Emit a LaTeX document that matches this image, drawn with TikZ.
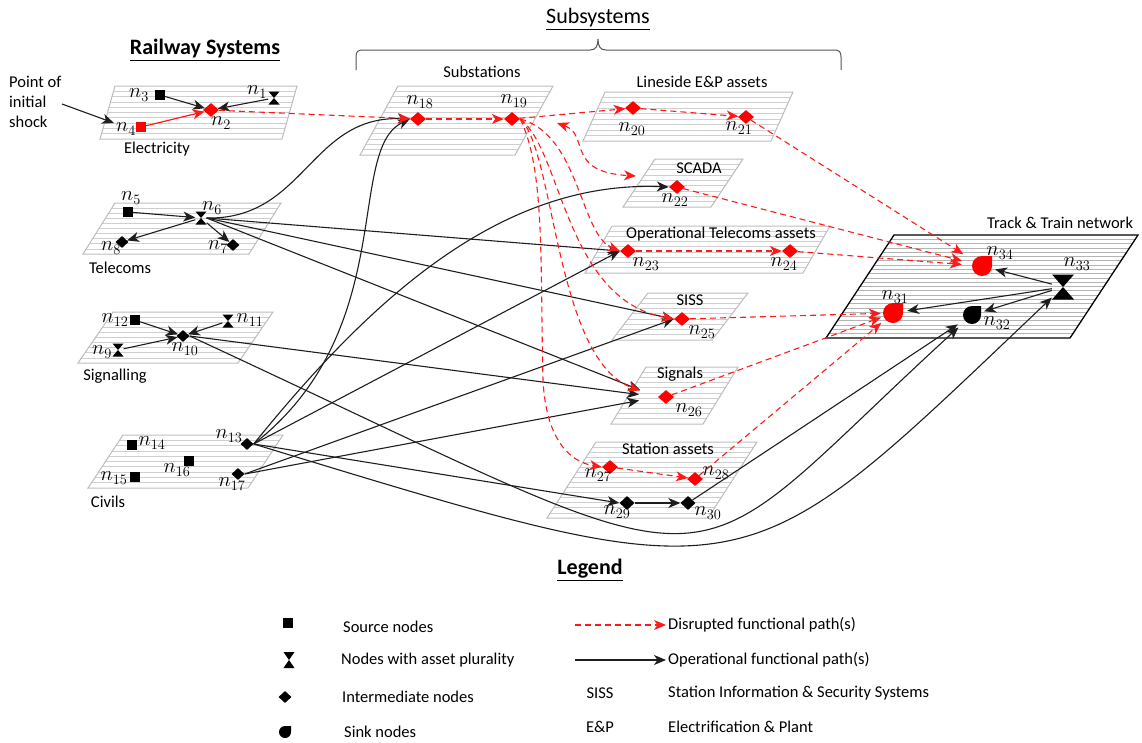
\documentclass[tikz,border=0pt]{standalone}
\usepackage{fontspec}
\setmainfont{Carlito}
\usetikzlibrary{arrows.meta,shapes.geometric}
\pgfdeclarelayer{bg}
\pgfsetlayers{bg,main}

\definecolor{planegray}{HTML}{BDBDBD}
\definecolor{linegray}{HTML}{CFCFCF}
\definecolor{linegrayd}{HTML}{B4B4B4}
\definecolor{pathred}{HTML}{FF1A1A}
\definecolor{opline}{HTML}{1E1E1E}
\definecolor{bracegray}{HTML}{555555}

\newcommand\labfont{\fontsize{20}{22}\selectfont}
\newcommand\ttlfont{\fontsize{16.5}{20}\selectfont}
\newcommand\headfont{\fontsize{22}{26}\selectfont}

% layer plane: top-left x, top-right x, top y, bottom-left x, bottom y, inner lines, edge style
\newcommand\drawplane[7]{%
  \begin{scope}
    \clip (#1,#3) -- (#2,#3) -- (#2+#4-#1,#5) -- (#4,#5) -- cycle;
    \foreach \k in {1,...,#6}{
      \pgfmathsetmacro\yy{#3+(#5-#3)*\k/(#6+1)}
      \draw[planeline] (#4-20,\yy) -- (#2+20,\yy);
    }
  \end{scope}
  \draw[#7] (#1,#3) -- (#2,#3) -- (#2+#4-#1,#5) -- (#4,#5) -- cycle;
}

\tikzset{
  >={Stealth[length=12pt,width=10pt,inset=3.5pt]},
  planeline/.style={draw=linegray, line width=0.8pt},
  planeedge/.style={draw=planegray, line width=1pt},
  planebold/.style={draw=black, line width=1.3pt},
  op/.style={draw=opline, line width=1.1pt, ->},
  opred/.style={draw=pathred, line width=1.2pt, ->},
  dis/.style={draw=pathred, line width=1.1pt, dash pattern=on 6pt off 4pt, ->},
  srcnode/.style={rectangle, fill=black, minimum size=10pt, inner sep=0pt},
  midnode/.style={diamond, fill=black, minimum width=13pt, minimum height=12pt, inner sep=0pt},
  rednode/.style={diamond, fill=red, minimum width=16pt, minimum height=14pt, inner sep=0pt},
  plnode/.style={rectangle, minimum width=11pt, minimum height=13pt, inner sep=0pt,
    path picture={\fill[black] (path picture bounding box.north west) -- (path picture bounding box.north east)
      -- (path picture bounding box.south west) -- (path picture bounding box.south east) -- cycle;}},
  sinknode/.style 2 args={rectangle, minimum size={#2*2pt}, inner sep=0pt,
    path picture={\fill[#1] (path picture bounding box.north) -- (path picture bounding box.north east)
      -- (path picture bounding box.east) arc[start angle=0, end angle=-270, radius=#2pt] -- cycle;}},
  lab/.style={font=\labfont, inner sep=0pt},
  ttl/.style={font=\ttlfont, inner sep=0pt},
  head/.style={font=\headfont, inner sep=0pt},
}

\begin{document}
\begin{tikzpicture}[x=1pt,y=-1pt]
\useasboundingbox (0,0) rectangle (1142,742);

% ---------- planes ----------
\begin{pgfonlayer}{bg}
  \drawplane{115}{297}{86}{100}{139}{9}{planeedge}   % Electricity
  \drawplane{115}{281}{203}{83}{254}{9}{planeedge}   % Telecoms
  \drawplane{113}{273}{312}{78}{363}{9}{planeedge}   % Signalling
  \drawplane{123}{283}{435}{88}{488}{9}{planeedge}   % Civils
  \drawplane{398}{553}{86}{360}{155}{12}{planeedge}  % Substations
  \drawplane{605}{793}{92}{583}{141}{8}{planeedge}   % Lineside
  \drawplane{655}{743}{159}{623}{207}{8}{planeedge}  % SCADA
  \drawplane{612}{830}{226}{585}{273}{8}{planeedge}  % Operational telecoms
  \drawplane{648}{748}{293}{612}{340}{8}{planeedge}  % SISS
  \drawplane{646}{738}{367}{611}{424}{10}{planeedge} % Signals
  \drawplane{596}{757}{442}{547}{518}{14}{planeedge} % Station assets
  \begin{scope}[planeline/.style={draw=linegrayd, line width=0.7pt}]
    \drawplane{894}{1138}{235}{826}{338}{23}{planebold} % Track & Train
  \end{scope}
\end{pgfonlayer}

% ---------- headings ----------
\node[head, font=\headfont\bfseries] (tRail) at (205,50) {\underline{Railway Systems}};
\node[head] (tSub) at (598,19) {\underline{Subsystems}};
\draw[bracegray, line width=1pt] (356,70) -- (356,57) .. controls (356,51) and (358,50) .. (364,50)
  -- (590,50) .. controls (596,50) and (598,46) .. (598,39)
  .. controls (598,46) and (600,50) .. (606,50) -- (833,50)
  .. controls (839,50) and (841,51) .. (841,57) -- (841,70);

% ---------- plane titles ----------
\node[ttl] (tElec) at (157,149) {Electricity};
\node[ttl] (tTel) at (120,268) {Telecoms};
\node[ttl] (tSig) at (115,376) {Signalling};
\node[ttl] (tCiv) at (108,502) {Civils};
\node[ttl] (tSubst) at (482,72) {Substations};
\node[ttl] (tLine) at (702,82) {Lineside E\&P assets};
\node[ttl] (tScada) at (699,168) {SCADA};
\node[ttl] (tOpT) at (721,234) {Operational Telecoms assets};
\node[ttl] (tSiss) at (690,300) {SISS};
\node[ttl] (tSigs) at (680,374) {Signals};
\node[ttl] (tStat) at (668,449) {Station assets};
\node[ttl] (tTrack) at (1060,223) {Track \& Train network};
\node[ttl, align=left, anchor=west] (shock) at (9,102) {Point of\\initial\\shock};

% ---------- nodes ----------
\node[plnode] (n1) at (274,98) {};
\node[rednode] (n2) at (211,110) {};
\node[srcnode] (n3) at (160,95) {};
\node[srcnode, fill=red] (n4) at (141,127) {};
\node[srcnode] (n5) at (128,212) {};
\node[plnode] (n6) at (201,218) {};
\node[midnode] (n7) at (233,245) {};
\node[midnode] (n8) at (122,242) {};
\node[plnode] (n9) at (118,350) {};
\node[midnode] (n10) at (183,336) {};
\node[plnode] (n11) at (228,321) {};
\node[srcnode] (n12) at (135,320) {};
\node[midnode] (n13) at (247,444) {};
\node[srcnode] (n14) at (132,445) {};
\node[srcnode] (n15) at (135,477) {};
\node[srcnode] (n16) at (189,461) {};
\node[midnode] (n17) at (238,474) {};
\node[rednode] (n18) at (418,119) {};
\node[rednode] (n19) at (512,119) {};
\node[rednode] (n20) at (633,108) {};
\node[rednode] (n21) at (746,117) {};
\node[rednode] (n22) at (677,187) {};
\node[rednode] (n23) at (628,251) {};
\node[rednode] (n24) at (790,251) {};
\node[rednode] (n25) at (682,319) {};
\node[rednode] (n26) at (666,397) {};
\node[rednode] (n27) at (610,467) {};
\node[rednode] (n28) at (695,479) {};
\node[midnode, minimum width=15pt, minimum height=14pt] (n29) at (627,503) {};
\node[midnode, minimum width=15pt, minimum height=14pt] (n30) at (688,503) {};
\node[sinknode={red}{10}] (n31) at (893,313) {};
\node[sinknode={black}{9}] (n32) at (972,315) {};
\node[plnode, minimum width=22pt, minimum height=25pt] (n33) at (1063,287) {};
\node[sinknode={red}{10}] (n34) at (982,266) {};

% ---------- node labels ----------
\node[lab] (ln1) at (257,92) {$n_{1}$};
\node[lab] (ln2) at (221,123) {$n_{2}$};
\node[lab] (ln3) at (139,95) {$n_{3}$};
\node[lab] (ln4) at (126,129) {$n_{4}$};
\node[lab] (ln5) at (131,198) {$n_{5}$};
\node[lab] (ln6) at (212,208) {$n_{6}$};
\node[lab] (ln7) at (218,247) {$n_{7}$};
\node[lab] (ln8) at (111,248) {$n_{8}$};
\node[lab] (ln9) at (102,352) {$n_{9}$};
\node[lab] (ln10) at (185,349) {$n_{10}$};
\node[lab] (ln11) at (250,320) {$n_{11}$};
\node[lab] (ln12) at (115,320) {$n_{12}$};
\node[lab] (ln13) at (229,436) {$n_{13}$};
\node[lab] (ln14) at (152,443) {$n_{14}$};
\node[lab] (ln15) at (114,478) {$n_{15}$};
\node[lab] (ln16) at (177,470) {$n_{16}$};
\node[lab] (ln17) at (232,484) {$n_{17}$};
\node[lab] (ln18) at (420,102) {$n_{18}$};
\node[lab] (ln19) at (514,101) {$n_{19}$};
\node[lab] (ln20) at (632,129) {$n_{20}$};
\node[lab] (ln21) at (739,128) {$n_{21}$};
\node[lab] (ln22) at (675,200) {$n_{22}$};
\node[lab] (ln23) at (646,264) {$n_{23}$};
\node[lab] (ln24) at (784,264) {$n_{24}$};
\node[lab] (ln25) at (702,332) {$n_{25}$};
\node[lab] (ln26) at (689,410) {$n_{26}$};
\node[lab] (ln27) at (598,475) {$n_{27}$};
\node[lab] (ln28) at (716,473) {$n_{28}$};
\node[lab] (ln29) at (617,512) {$n_{29}$};
\node[lab] (ln30) at (708,513) {$n_{30}$};
\node[lab] (ln31) at (895,297) {$n_{31}$};
\node[lab] (ln32) at (997,323) {$n_{32}$};
\node[lab] (ln33) at (1077,264) {$n_{33}$};
\node[lab] (ln34) at (1000,253) {$n_{34}$};

% ---------- operational paths ----------
\coordinate (shockstart) at (62,104);
\coordinate (shockend) at (114,123);
\draw[op] (shockstart) -- (shockend);
\draw[op] (n3) -- (n2);
\draw[op] (n1) -- (n2);
\draw[opred] (n4) -- (n2);
\draw[op] (n5) -- (n6);
\draw[op] (n6) -- (n8);
\draw[op] (n6) -- (n7);
\draw[op] (n12) -- (n10);
\draw[op] (n11) -- (n10);
\draw[op] (n9) -- (n10);

\draw[op] (n6.east) .. controls (305,220) and (310,115) .. (n18.west);
\draw[op] (n13.east) .. controls (400,330) and (345,150) .. (n18.west);
\draw[op] (n13.east) .. controls (370,300) and (500,180) .. (n22.west);
\draw[op] (n6.east) -- (n23.west);
\draw[op] (n6.east) -- (n25.west);
\draw[op, shorten >=19pt] (n6.east) -- (n26.west);
\draw[op, shorten >=19pt] (n10.east) -- (n26.west);
\draw[op] (n17.east) -- (n25.west);
\draw[op, shorten >=19pt] (n17.east) -- (n26.west);
\draw[op] (n13.east) -- (n23.west);
\draw[op] (n13.east) -- (n29.west);
\draw[op] (n29) -- (n30);
\draw[op, shorten >=6pt] (n10.east) .. controls (760,600) and (660,600) .. (n32);
\draw[op] (n13.east) .. controls (760,598) and (735,598) .. (n33);
\draw[op, shorten >=6pt] (n30) -- (n32);
\draw[op, shorten >=3pt] (n33) -- (n34);
\draw[op, shorten >=4pt] (n33) -- (n31);
\draw[op, shorten >=3pt] (n33) -- (n32);

% ---------- disrupted paths ----------
\draw[dis] (n2) -- (n18);
\draw[dis] (n18) -- (n19);
\draw[dis] (n19) -- (n20);
\draw[dis] (n20) -- (n21);
\draw[dis, shorten >=10pt] (n21) -- (n34);
\draw[dis, shorten >=10pt] (n22) -- (n34);
\draw[dis] (n23) -- (n24);
\draw[dis, shorten >=10pt] (n24) -- (n34);
\draw[dis, shorten >=2pt] (n25) -- (n31);
\draw[dis, shorten >=2pt] (n26) -- (n31);
\draw[dis] (n27) -- (n28);
\draw[dis, shorten >=2pt] (n28) -- (n31);
\draw[dis] (n19.east) .. controls (580,135) and (580,235) .. (n23.west);
\draw[dis] (n19.east) .. controls (562,150) and (565,300) .. (n25.west);
\draw[dis, shorten >=19pt] (n19.east) .. controls (555,150) and (555,360) .. (n26.west);
\draw[dis] (n19.east) .. controls (545,170) and (540,260) .. (543,380)
  .. controls (546,440) and (570,462) .. (n27.west);
\coordinate (r19) at (557,123);
\coordinate (r22) at (636,176);
\draw[dis, <->] (r19) .. controls (590,135) and (565,172) .. (r22);

% ---------- legend ----------
\node[head, font=\headfont\bfseries] (tLeg) at (590,570) {\underline{Legend}};
\node[srcnode] (lgsrc) at (288,623) {};
\node[plnode, minimum width=11pt, minimum height=16pt] (lgpl) at (289,660) {};
\node[midnode] (lgmid) at (285,697) {};
\node[sinknode={black}{6}] (lgsink) at (285,732) {};
\node[ttl, anchor=west] (lt1) at (343,627) {Source nodes};
\node[ttl, anchor=west] (lt2) at (341,660) {Nodes with asset plurality};
\node[ttl, anchor=west] (lt3) at (342,697) {Intermediate nodes};
\node[ttl, anchor=west] (lt4) at (344,732) {Sink nodes};
\coordinate (la1) at (575,625);
\coordinate (lb1) at (666,625);
\draw[dis] (la1) -- (lb1);
\coordinate (la2) at (575,660);
\coordinate (lb2) at (666,660);
\draw[op] (la2) -- (lb2);
\node[ttl, anchor=west] (lt5) at (668,625) {Disrupted functional path(s)};
\node[ttl, anchor=west] (lt6) at (668,660) {Operational functional path(s)};
\node[ttl] (lsiss) at (600,693) {SISS};
\node[ttl, anchor=west] (lt7) at (668,693) {Station Information \& Security Systems};
\node[ttl] (lep) at (600,727) {E\&P};
\node[ttl, anchor=west] (lt8) at (668,727) {Electrification \& Plant};
\end{tikzpicture}
\end{document}
